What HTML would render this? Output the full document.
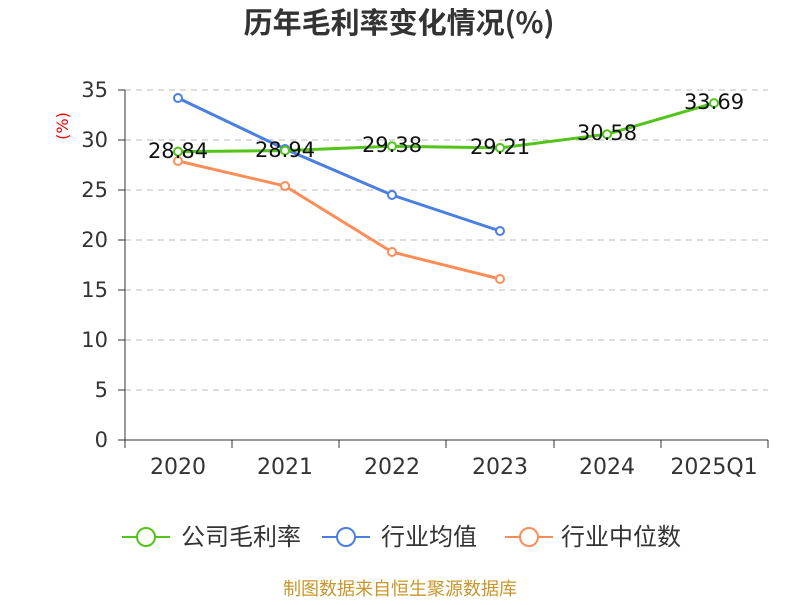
<!DOCTYPE html>
<html><head><meta charset="utf-8"><style>
body{margin:0;background:#fff;}
svg text{font-family:"DejaVu Sans","Noto Sans CJK SC",sans-serif;}
</style></head><body>
<svg width="800" height="600" viewBox="0 0 800 600" xmlns="http://www.w3.org/2000/svg">
<text x="399" y="33" text-anchor="middle" font-size="29" font-weight="bold" fill="#333" style="font-family:'Noto Sans CJK SC',sans-serif">历年毛利率变化情况(%)</text>
<text transform="translate(68,126) rotate(-90)" text-anchor="middle" font-size="16" fill="#e00">(%)</text>
<g stroke="#bbb" stroke-dasharray="6,5" stroke-width="1">
<line x1="125" y1="90" x2="768" y2="90"/><line x1="125" y1="140" x2="768" y2="140"/>
<line x1="125" y1="190" x2="768" y2="190"/><line x1="125" y1="240" x2="768" y2="240"/>
<line x1="125" y1="290" x2="768" y2="290"/><line x1="125" y1="340" x2="768" y2="340"/>
<line x1="125" y1="390" x2="768" y2="390"/>
</g>
<g stroke="#333" stroke-width="1">
<line x1="125" y1="90" x2="125" y2="440"/>
<line x1="118" y1="90" x2="125" y2="90"/><line x1="118" y1="140" x2="125" y2="140"/>
<line x1="118" y1="190" x2="125" y2="190"/><line x1="118" y1="240" x2="125" y2="240"/>
<line x1="118" y1="290" x2="125" y2="290"/><line x1="118" y1="340" x2="125" y2="340"/>
<line x1="118" y1="390" x2="125" y2="390"/><line x1="118" y1="440" x2="125" y2="440"/>
<line x1="125" y1="440" x2="768" y2="440"/>
<line x1="125" y1="440" x2="125" y2="448"/><line x1="232" y1="440" x2="232" y2="448"/>
<line x1="339" y1="440" x2="339" y2="448"/><line x1="446" y1="440" x2="446" y2="448"/>
<line x1="554" y1="440" x2="554" y2="448"/><line x1="661" y1="440" x2="661" y2="448"/>
<line x1="768" y1="440" x2="768" y2="448"/>
</g>
<g font-size="21" fill="#333" text-anchor="end">
<text x="108" y="97">35</text><text x="108" y="147">30</text><text x="108" y="197">25</text>
<text x="108" y="247">20</text><text x="108" y="297">15</text><text x="108" y="347">10</text>
<text x="108" y="397">5</text><text x="108" y="447">0</text>
</g>
<g font-size="22" fill="#333" text-anchor="middle">
<text x="178" y="474">2020</text><text x="285" y="474">2021</text><text x="392" y="474">2022</text>
<text x="500" y="474">2023</text><text x="607" y="474">2024</text><text x="714" y="474">2025Q1</text>
</g>
<g fill="#fff" stroke-width="2">
<polyline points="178,161 285,186 392,252 500,279" fill="none" stroke="#fc8d59" stroke-width="3"/>
<circle cx="178" cy="161" r="4" stroke="#fc8d59"/><circle cx="285" cy="186" r="4" stroke="#fc8d59"/>
<circle cx="392" cy="252" r="4" stroke="#fc8d59"/><circle cx="500" cy="279" r="4" stroke="#fc8d59"/>
<polyline points="178,98 285,149 392,195 500,231" fill="none" stroke="#4a7fe0" stroke-width="3"/>
<circle cx="178" cy="98" r="4" stroke="#4a7fe0"/><circle cx="285" cy="149" r="4" stroke="#4a7fe0"/>
<circle cx="392" cy="195" r="4" stroke="#4a7fe0"/><circle cx="500" cy="231" r="4" stroke="#4a7fe0"/>
<polyline points="178,151.6 285,150.6 392,146.2 500,147.9 607,134.2 714,103.1" fill="none" stroke="#52c41a" stroke-width="3"/>
<circle cx="178" cy="151.6" r="4" stroke="#52c41a"/><circle cx="285" cy="150.6" r="4" stroke="#52c41a"/>
<circle cx="392" cy="146.2" r="4" stroke="#52c41a"/><circle cx="500" cy="147.9" r="4" stroke="#52c41a"/>
<circle cx="607" cy="134.2" r="4" stroke="#52c41a"/><circle cx="714" cy="103.1" r="4" stroke="#52c41a"/>
</g>
<g font-size="21" fill="#111" text-anchor="middle">
<text x="178" y="158">28.84</text><text x="285" y="157">28.94</text><text x="392" y="152">29.38</text>
<text x="500" y="154">29.21</text><text x="607" y="140">30.58</text><text x="714" y="109">33.69</text>
</g>
<g stroke-width="2" fill="#fff">
<line x1="122" y1="537" x2="170" y2="537" stroke="#52c41a"/><circle cx="146" cy="537" r="9" stroke="#52c41a"/>
<line x1="322" y1="537" x2="370" y2="537" stroke="#4a7fe0"/><circle cx="346" cy="537" r="9" stroke="#4a7fe0"/>
<line x1="505" y1="537" x2="553" y2="537" stroke="#fc8d59"/><circle cx="529" cy="537" r="9" stroke="#fc8d59"/>
</g>
<g font-size="24" fill="#333" style="font-family:'Noto Sans CJK SC',sans-serif">
<text x="181" y="545">公司毛利率</text><text x="381" y="545">行业均值</text><text x="561" y="545">行业中位数</text>
</g>
<text x="400" y="595" text-anchor="middle" font-size="18" fill="#c8962a" style="font-family:'Noto Sans CJK SC',sans-serif">制图数据来自恒生聚源数据库</text>
</svg>
</body></html>
